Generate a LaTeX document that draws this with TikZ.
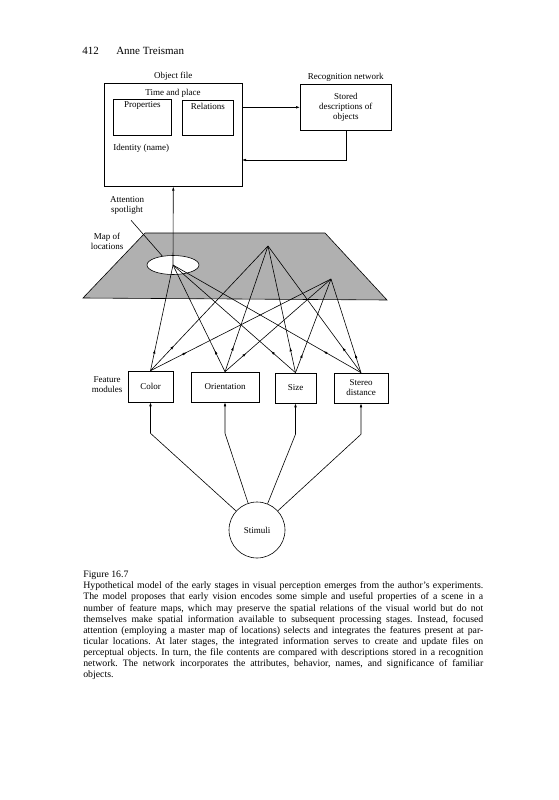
\documentclass[tikz,border=0pt]{standalone}
\usepackage{fontspec}
\setmainfont{Liberation Serif}
\usetikzlibrary{arrows.meta,decorations.markings,shapes.geometric,positioning}

\tikzset{
  box/.style={draw,line width=0.6pt,inner sep=0pt,font=\fontsize{9}{10}\selectfont,align=center},
  lbl/.style={font=\fontsize{9}{10}\selectfont,align=center,inner sep=1pt},
  tip/.style={-{Latex[length=4pt,width=2.6pt]}},
  midtip/.style={postaction={decorate},decoration={markings,
      mark=at position 0.2 with {\arrow{Latex[length=4pt,width=2.6pt]}}}}
}

\begin{document}
\begin{tikzpicture}[x=1pt,y=-1pt,line width=0.6pt]
        \useasboundingbox (0,0) rectangle (558,800);
        % running head
        \node[anchor=base west,font=\fontsize{11}{13}\selectfont,inner sep=0] (pgno) at (82,55) {412};
        \node[anchor=base west,font=\fontsize{11}{13}\selectfont,inner sep=0] (author) at (116,55) {Anne Treisman};
        % object file and recognition network
        \node[box,anchor=north west,minimum width=138pt,minimum height=103pt] (objfile) at (104,83) {};
        \node[lbl,above=1pt of objfile] (objlbl) {Object file};
        \node[lbl] (timelbl) at (173,93) {Time and place};
        \node[box,anchor=north west,minimum width=58pt,minimum height=36pt] (props) at (113,99) {};
        \node[lbl,below=1.5pt of props.north] (propslbl) {Properties};
        \node[box,anchor=north west,minimum width=51pt,minimum height=35pt] (rels) at (182,100) {};
        \node[lbl,below=2pt of rels.north] (relslbl) {Relations};
        \node[lbl,anchor=west] (idlbl) at (112,148) {Identity (name)};
        \node[box,anchor=north west,minimum width=91pt,minimum height=46pt] (recog) at (300,84)
            {Stored\\descriptions of\\objects};
        \node[lbl,above=1pt of recog] (recoglbl) {Recognition network};
        \coordinate (back) at (242,160);
        \draw[tip] (recog.west -| objfile.east) -- (recog.west);
        \draw[tip] (recog.south) |- (back);
        % master map of locations
        \draw[fill=gray!62] (83,298) -- (145,233) -- (325,233) -- (387,300) -- cycle;
        \node[ellipse,draw,fill=white,minimum width=52pt,minimum height=19pt,inner sep=0] (spot) at (173,265) {};
        \node[lbl] (spotlbl) at (127,205) {Attention\\spotlight};
        \node[lbl] (maplbl) at (107,241) {Map of\\locations};
        \draw ([shift={(4,5)}]spotlbl.south) -- (spot.140);
        \coordinate (pspot) at (173,265);
        \coordinate (pB) at (268,246);
        \coordinate (pC) at (331,279);
        \draw[tip] (pspot) -- (objfile.south);
        % feature modules
        \node[box,minimum width=45pt,minimum height=31pt] (color) at (150.5,386.5) {Color};
        \node[box,minimum width=68pt,minimum height=30pt] (orient) at (225,387) {Orientation};
        \node[box,minimum width=41pt,minimum height=30pt] (size) at (295.5,388) {Size};
        \node[box,minimum width=54pt,minimum height=30pt] (stereo) at (361,388) {Stereo\\distance};
        \node[lbl,left=4pt of color,yshift=2pt] (featlbl) {Feature\\modules};
        \foreach \f in {color,orient,size,stereo}
            \foreach \p in {pspot,pB,pC}
                \draw[midtip] (\f.north) -- (\p);
        % stimuli
        \node[circle,draw,minimum size=56pt,inner sep=0,font=\fontsize{9}{10}\selectfont] (stim) at (257,530) {Stimuli};
        \foreach \f in {color,orient,size,stereo}
            \draw[tip] (stim) -- ([yshift=-31pt]\f.south) -- (\f.south);
        % caption
        \node[anchor=north west,text width=400pt,align=justify,inner sep=0,
              font=\fontsize{9.8}{11.1}\selectfont\frenchspacing] (caption) at (83,571) {%
            Figure 16.7\\
            Hypothetical model of the early stages in visual perception emerges from the author's experiments.\linebreak
            The model proposes that early vision encodes some simple and useful properties of a scene in a\linebreak
            number of feature maps, which may preserve the spatial relations of the visual world but do not\linebreak
            themselves make spatial information available to subsequent processing stages. Instead, focused\linebreak
            attention (employing a master map of locations) selects and integrates the features present at par-\linebreak
            ticular locations. At later stages, the integrated information serves to create and update files on\linebreak
            perceptual objects. In turn, the file contents are compared with descriptions stored in a recognition\linebreak
            network. The network incorporates the attributes, behavior, names, and significance of familiar\linebreak
            objects.};
    \end{tikzpicture}
\end{document}
